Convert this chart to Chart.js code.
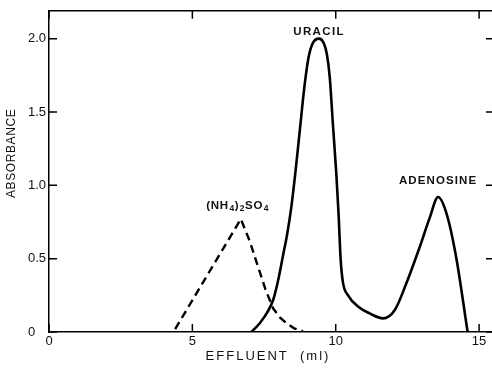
<!DOCTYPE html>
<html lang="en">
<head>
<meta charset="UTF-8">
<title>Absorbance vs effluent</title>
<script src="https://cdn.jsdelivr.net/npm/chart.js"></script>
<style>
    html, body { margin: 0; padding: 0; background: #fff; }
    #wrap { width: 492px; height: 368px; }
</style>
</head>
<body>
<div id="wrap"><canvas id="chart"></canvas></div>
<script>
    // elution profile (ml, absorbance)
    const peakX = [7.06, 7.35, 7.6, 7.82, 8.0, 8.16, 8.3, 8.45, 8.6, 8.75, 8.9, 9.05, 9.2, 9.42, 9.58, 9.69, 9.79, 9.9, 10.02, 10.1, 10.17, 10.25, 10.43, 10.8, 11.18, 11.65, 12.06, 12.46, 12.93, 13.28, 13.57, 13.86, 14.2, 14.6];
    const peakY = [0, 0.06, 0.13, 0.22, 0.36, 0.52, 0.66, 0.85, 1.1, 1.38, 1.66, 1.87, 1.97, 2.0, 1.97, 1.895, 1.74, 1.42, 1.08, 0.8, 0.5, 0.34, 0.25, 0.17, 0.127, 0.093, 0.15, 0.33, 0.58, 0.78, 0.92, 0.81, 0.51, 0.0];
    const saltX = [4.4, 6.69, 7.0, 7.25, 7.55, 7.82, 8.05, 8.28, 8.55, 8.86];
    const saltY = [0.02, 0.77, 0.62, 0.47, 0.29, 0.16, 0.1, 0.06, 0.025, 0.005];
    const xTicks = [0, 5, 10, 15];
    const yTicks = [0, 0.5, 1.0, 1.5, 2.0];

    const FONT = "'Liberation Sans', Arial, sans-serif";

    function toPoints(xs, ys) {
        return xs.map((v, i) => ({ x: v, y: ys[i] }));
    }

    // spaced text helper
    function spaced(ctx, text, x, y, font, spacing, align) {
        ctx.font = font;
        ctx.letterSpacing = spacing + 'px';
        ctx.textAlign = align || 'center';
        ctx.fillText(text, x, y);
        ctx.letterSpacing = '0px';
    }

    const framePlugin = {
        id: 'frame',
        afterDatasetsDraw(chart) {
            const { ctx, chartArea: a, scales: { x, y } } = chart;
            ctx.save();
            ctx.strokeStyle = '#000';
            ctx.lineWidth = 1.5;
            ctx.beginPath();
            ctx.moveTo(a.left, a.top);
            ctx.lineTo(a.right, a.top);
            xTicks.forEach(v => {
                const px = x.getPixelForValue(v);
                ctx.moveTo(px, a.bottom); ctx.lineTo(px, a.bottom - 8);
                ctx.moveTo(px, a.top); ctx.lineTo(px, a.top + 8);
            });
            yTicks.forEach(v => {
                const py = y.getPixelForValue(v);
                ctx.moveTo(a.left, py); ctx.lineTo(a.left + 8, py);
                ctx.moveTo(a.right, py); ctx.lineTo(a.right - 6, py);
            });
            ctx.stroke();

            ctx.fillStyle = '#111';
            ctx.textBaseline = 'middle';
            // peak labels
            spaced(ctx, 'URACIL', x.getPixelForValue(9.42), y.getPixelForValue(2.05), 'bold 11.5px ' + FONT, 1.4);
            spaced(ctx, 'ADENOSINE', x.getPixelForValue(13.57), y.getPixelForValue(1.03), 'bold 11.5px ' + FONT, 1.1);

            // (NH4)2SO4 with subscripts
            ctx.textBaseline = 'alphabetic';
            let cx = x.getPixelForValue(5.48);
            const base = y.getPixelForValue(0.84);
            const parts = [['(NH', 0], ['4', 1], [')', 0], ['2', 1], ['SO', 0], ['4', 1]];
            parts.forEach(([t, sub]) => {
                ctx.font = sub ? 'bold 8.5px ' + FONT : 'bold 11.5px ' + FONT;
                ctx.letterSpacing = sub ? '0px' : '0.8px';
                ctx.textAlign = 'left';
                ctx.fillText(t, cx, base + (sub ? 2.5 : 0));
                cx += ctx.measureText(t).width + 0.5;
            });
            ctx.letterSpacing = '0px';

            // axis titles
            ctx.textBaseline = 'middle';
            spaced(ctx, 'EFFLUENT  (ml)', 268, 356, '13px ' + FONT, 2);
            ctx.translate(12, (a.top + a.bottom) / 2 - 18);
            ctx.rotate(-Math.PI / 2);
            spaced(ctx, 'ABSORBANCE', 0, 0, '12px ' + FONT, 0.6);
            ctx.restore();
        }
    };

    new Chart(document.getElementById('chart'), {
        type: 'line',
        data: {
            datasets: [
                {
                    label: 'Uracil / Adenosine',
                    data: toPoints(peakX, peakY),
                    borderColor: '#000',
                    borderWidth: 2.6,
                    pointRadius: 0,
                    cubicInterpolationMode: 'monotone',
                    fill: false
                },
                {
                    label: '(NH4)2SO4',
                    data: toPoints(saltX, saltY),
                    borderColor: '#000',
                    borderWidth: 2.4,
                    borderDash: [8, 5],
                    pointRadius: 0,
                    tension: 0,
                    fill: false
                }
            ]
        },
        options: {
            responsive: true,
            maintainAspectRatio: false,
            animation: false,
            devicePixelRatio: 1,
            layout: { padding: { top: 10, right: 0, left: 0, bottom: 0 } },
            plugins: { legend: { display: false }, tooltip: { enabled: false } },
            scales: {
                x: {
                    type: 'linear',
                    min: 0,
                    max: 15.45,
                    afterBuildTicks: s => { s.ticks = xTicks.map(v => ({ value: v })); },
                    afterFit: s => { s.height = 36; },
                    grid: { display: false, drawTicks: false },
                    border: { display: true, color: '#000', width: 1.5 },
                    ticks: { color: '#111', font: { size: 13, family: FONT }, padding: 2, maxRotation: 0, callback: v => String(v) }
                },
                y: {
                    min: 0,
                    max: 2.19,
                    afterBuildTicks: s => { s.ticks = yTicks.map(v => ({ value: v })); },
                    afterFit: s => { s.width = 49; },
                    grid: { display: false, drawTicks: false },
                    border: { display: true, color: '#000', width: 1.5 },
                    ticks: { color: '#111', font: { size: 13, family: FONT }, padding: 3, callback: v => v === 0 ? '0   ' : v.toFixed(1) }
                }
            }
        },
        plugins: [framePlugin]
    });
</script>
</body>
</html>
